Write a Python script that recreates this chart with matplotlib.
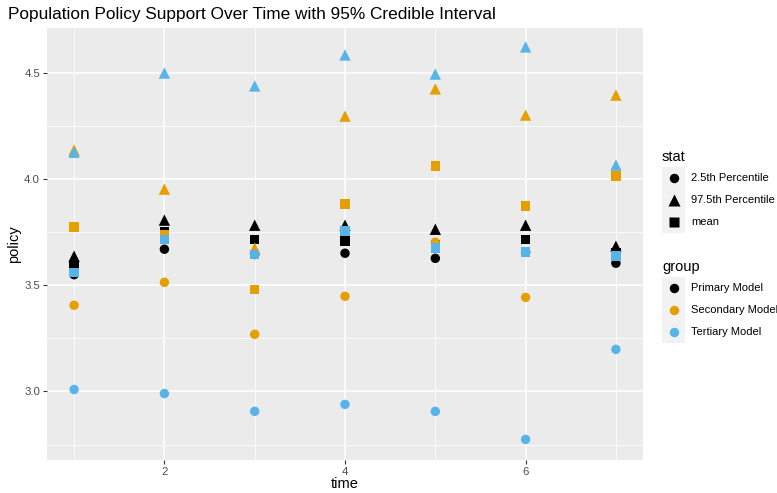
import matplotlib
matplotlib.use("Agg")
import matplotlib.pyplot as plt
from matplotlib.patches import Rectangle
from matplotlib.ticker import MultipleLocator

plt.rcParams['font.family'] = ['Liberation Sans', 'DejaVu Sans']

time = [1, 2, 3, 4, 5, 6, 7]
groups = ["Primary Model", "Secondary Model", "Tertiary Model"]
stats = ["2.5th Percentile", "97.5th Percentile", "mean"]

primary_lo = [3.550, 3.670, 3.645, 3.651, 3.627, 3.655, 3.604]
primary_hi = [3.637, 3.807, 3.783, 3.783, 3.764, 3.783, 3.684]
primary_mean = [3.599, 3.750, 3.717, 3.708, 3.690, 3.717, 3.655]

secondary_lo = [3.406, 3.514, 3.269, 3.448, 3.703, 3.443, 3.640]
secondary_hi = [4.137, 3.953, 3.675, 4.297, 4.425, 4.302, 4.396]
secondary_mean = [3.774, 3.740, 3.480, 3.882, 4.061, 3.873, 4.014]

tertiary_lo = [3.009, 2.990, 2.906, 2.939, 2.906, 2.774, 3.198]
tertiary_hi = [4.127, 4.500, 4.439, 4.585, 4.495, 4.623, 4.066]
tertiary_mean = [3.561, 3.717, 3.646, 3.755, 3.675, 3.656, 3.637]

series = {
    "Primary Model": [primary_lo, primary_hi, primary_mean],
    "Secondary Model": [secondary_lo, secondary_hi, secondary_mean],
    "Tertiary Model": [tertiary_lo, tertiary_hi, tertiary_mean],
}

colors = {"Primary Model": "#000000", "Secondary Model": "#E69F00",
          "Tertiary Model": "#56B4E9"}
markers = {"2.5th Percentile": ("o", 6.8), "97.5th Percentile": ("^", 8.2),
           "mean": ("s", 6.8)}

W, H = 777, 493
fig = plt.figure(figsize=(W / 100, H / 100), dpi=100)
ax = fig.add_axes([47 / W, 1 - 460 / H, 596 / W, 432 / H])
ax.set_facecolor("#EBEBEB")
for s in ax.spines.values():
    s.set_visible(False)

for g in groups:
    for st, vals in zip(stats, series[g]):
        m, ms = markers[st]
        ax.scatter(time, vals, marker=m, s=ms ** 2, color=colors[g],
                   edgecolors="none", zorder=3)

ax.set_xlim(0.7, 7.3)
ax.set_ylim(2.677, 4.712)
ax.xaxis.set_major_locator(MultipleLocator(2))
ax.xaxis.set_minor_locator(MultipleLocator(1))
ax.yaxis.set_major_locator(MultipleLocator(0.5))
ax.yaxis.set_minor_locator(MultipleLocator(0.25))
ax.yaxis.set_major_formatter(matplotlib.ticker.FormatStrFormatter("%.1f"))
ax.grid(which="major", color="white", linewidth=1.1, zorder=0)
ax.grid(which="minor", color="white", linewidth=0.55, zorder=0)
ax.set_axisbelow(True)
ax.tick_params(which="major", length=3, width=0.8, color="#333333",
               labelcolor="#4D4D4D", labelsize=8.2, pad=2)
ax.tick_params(which="minor", length=0)
ax.set_xlabel("time", fontsize=10.5, labelpad=0)
ax.set_ylabel("policy", fontsize=10.5, labelpad=2)

fig.text(8 / W, 1 - 15 / H, "Population Policy Support Over Time with 95% Credible Interval",
         fontsize=12.4, va="center", ha="left")

# legends drawn on an overlay in pixel coordinates
lg = fig.add_axes([0, 0, 1, 1])
lg.set_xlim(0, W)
lg.set_ylim(H, 0)
lg.axis("off")


def draw_legend(title, top, labels, keymarkers, keycolors):
    lg.text(662, top, title, fontsize=10.5, va="center", ha="left")
    y0 = top + 10
    for i, lab in enumerate(labels):
        yc = y0 + 22 * i + 11
        lg.add_patch(Rectangle((662, y0 + 22 * i), 23, 22, color="#F2F2F2", lw=0))
        m, ms = keymarkers[i]
        lg.plot([673.5], [yc], marker=m, ms=ms, color=keycolors[i], mec="none")
        lg.text(691, yc, lab, fontsize=8.0, va="center", ha="left")


draw_legend("stat", 157, stats, [markers[s] for s in stats], ["black"] * 3)
draw_legend("group", 267, groups, [("o", 6.8)] * 3, [colors[g] for g in groups])

fig.savefig("out.png", dpi=100)
